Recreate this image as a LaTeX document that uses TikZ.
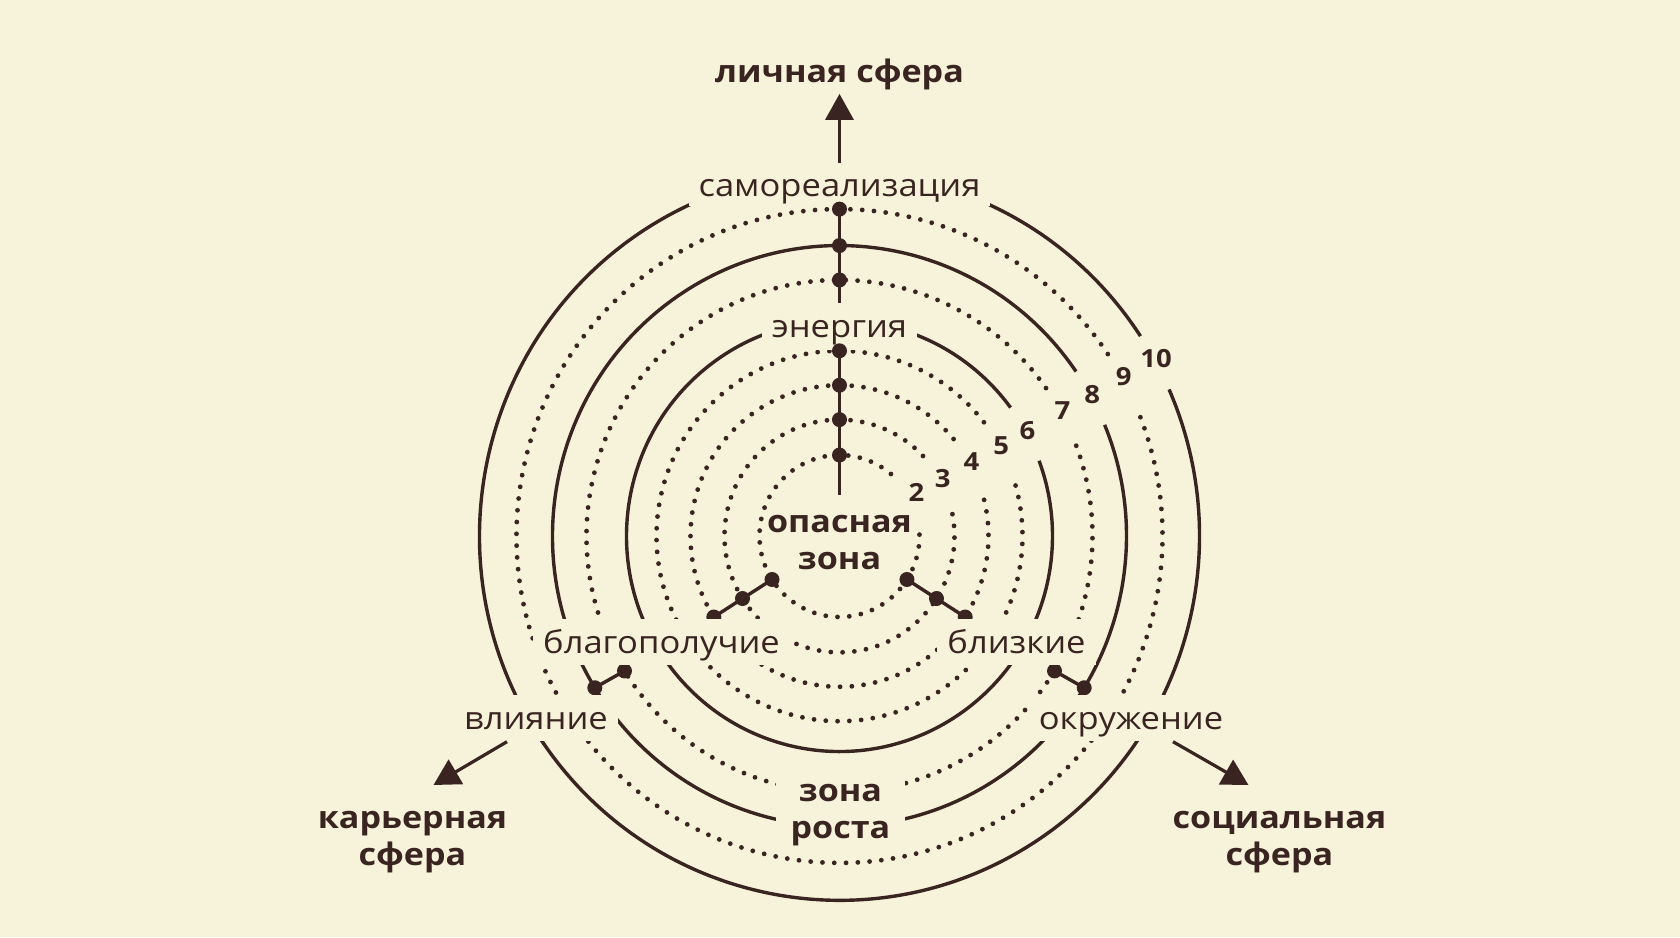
\documentclass[tikz,border=0pt]{standalone}
\usepackage{fontspec}
\setmainfont{Open Sans}[FakeStretch=1.1]
\usetikzlibrary{arrows.meta}
\definecolor{paper}{HTML}{F7F3DA}
\definecolor{ink}{HTML}{3A2421}
\newcommand{\twoline}[2]{\begin{tabular}[t]{@{}c@{}}#1\\#2\end{tabular}}

\begin{document}
\begin{tikzpicture}[x=0.5pt, y=0.5pt,
	solidring/.style={ink, line width=1.7pt},
	dotring/.style={ink, line width=2.4pt, line cap=round, dash pattern=on 0pt off 5.9pt},
	bead/.style={circle, fill=ink, inner sep=0pt, minimum size=7.5pt},
	rod/.style={ink, line width=1.7pt},
	ringlabel/.style={fill=paper, text=ink, anchor=base, inner xsep=5pt, inner ysep=3.5pt,
		text height=13.5pt, text depth=2.5pt, font=\fontsize{15.7}{18.5}\selectfont},
	zonelabel/.style={text=ink, anchor=base, inner xsep=7.5pt, inner ysep=2pt,
		font=\fontsize{15.5}{18.5}\selectfont\bfseries},
	spherelabel/.style={text=ink, anchor=base, inner sep=1.5pt,
		font=\fontsize{15.5}{18.5}\selectfont\bfseries},
	ringnum/.style={text=ink, inner sep=0pt, font=\fontsize{12.5}{14}\selectfont\bfseries},
	spoke/.style={ink, line width=1.6pt, -{Triangle[length=13pt, width=14pt]}}]
	\fill[paper] (-839.5,-401) rectangle (840.5,536);
	\useasboundingbox (-839.5,-401) rectangle (840.5,536);
	% rings 2..10, each broken where its number sits
	\begin{scope}[yscale=1.012]
	\foreach \rad/\kind/\num/\lift in {80/dotring/2/8, 115/dotring/3/3, 149/dotring/4/2, 183/dotring/5/2,
		213/solidring/6/2, 253/dotring/7/2, 287/solidring/8/2, 323/dotring/9/2, 360/solidring/10/2} {
		\pgfmathsetmacro{\gap}{1719/\rad}
		\draw[\kind] ({28.5+\gap}:\rad) arc[start angle={28.5+\gap}, end angle={388.5-\gap}, radius=\rad];
		\node[ringnum] (ring\num) at (29:{\rad+\lift}) {\num};
	}
	% markers on the two lower axes
	\node[bead] (llA) at (212.5:80) {};
	\node[bead] (llB) at (212.5:115) {};
	\node[bead] (llC) at (212.5:149) {};
	\node[bead] (llD) at (211.8:253) {};
	\node[bead] (llE) at (211.5:287) {};
	\draw[rod] (llA.center) -- (llC.center);
	\draw[rod] (llD.center) -- (llE.center);
	\node[bead] (lrA) at (327.5:80) {};
	\node[bead] (lrB) at (327.5:115) {};
	\node[bead] (lrC) at (327.5:149) {};
	\node[bead] (lrD) at (328.2:253) {};
	\node[bead] (lrE) at (328.5:287) {};
	\draw[rod] (lrA.center) -- (lrC.center);
	\draw[rod] (lrD.center) -- (lrE.center);
	\end{scope}
	% labels sitting on the rings
	\node[ringlabel, text depth=1pt] (selfreal) at (0,339) {самореализация};
	\node[ringlabel] (energy) at (0,198) {энергия};
	\node[ringlabel] (welfare) at (-178,-117) {благополучие};
	\node[ringlabel] (close) at (177,-117) {близкие};
	\node[ringlabel] (infl) at (-303.5,-193.3) {влияние};
	\node[ringlabel] (surround) at (291.5,-193.3) {окружение};
	\node[zonelabel] (danger) at (0,4) {\twoline{опасная}{зона}};
	\node[zonelabel, fill=paper] (growth) at (1,-265.7) {\twoline{зона}{роста}};
	% top axis
	\begin{scope}[yscale=1.012]
	\node[bead] (upA) at (90:80) {};
	\node[bead] (upB) at (90:115) {};
	\node[bead] (upC) at (90:149) {};
	\node[bead] (upD) at (90:183) {};
	\node[bead] (upE) at (90:253) {};
	\node[bead] (upF) at (90:287) {};
	\node[bead] (upG) at (90:323) {};
	\coordinate (innerend) at (90:40.5);
	\coordinate (outerend) at (90:230);
	\draw[rod] (upD.center) -- (innerend);
	\draw[rod] (upG.center) -- (outerend);
	\end{scope}
	% spheres
	\node[spherelabel] (personal) at (0,453) {личная сфера};
	\node[spherelabel] (career) at (-427,-292.3) {\twoline{карьерная}{сфера}};
	\node[spherelabel] (social) at (440,-292.3) {\twoline{социальная}{сфера}};
	\coordinate (careertip) at (-406,-249);
	\coordinate (socialtip) at (409,-249);
	\draw[spoke] (selfreal.north) -- (personal.south);
	\draw[spoke] ([xshift=-14.5pt]infl.south) -- (careertip);
	\draw[spoke] ([xshift=21pt]surround.south) -- (socialtip);
\end{tikzpicture}
\end{document}
